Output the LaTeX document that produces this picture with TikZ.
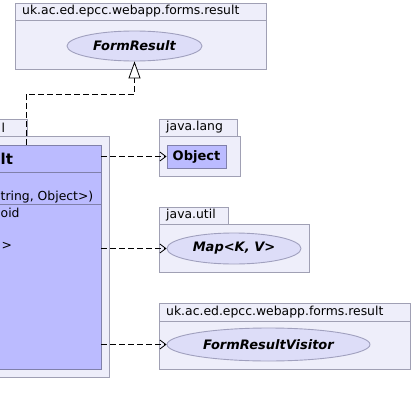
\documentclass[tikz,border=0pt]{standalone}
\usepackage{fontspec}
\setmainfont{DejaVu Sans}
\usetikzlibrary{arrows.meta,shapes.geometric}
\definecolor{pkgfill}{RGB}{238,238,250}
\definecolor{pkgline}{RGB}{160,160,180}
\definecolor{clsfill}{RGB}{187,187,255}
\definecolor{clsline}{RGB}{128,128,170}
\definecolor{ellfill}{RGB}{221,221,248}
\definecolor{ellline}{RGB}{160,160,190}
\tikzset{
  pkg/.style={draw=pkgline, fill=pkgfill, line width=0.9pt},
  cls/.style={draw=clsline, fill=clsfill, line width=0.9pt},
  ell/.style={ellipse, draw=ellline, fill=ellfill, line width=0.9pt, inner sep=0pt},
  lbl/.style={font=\fontsize{12.4}{14}\selectfont, inner sep=0pt},
  bfi/.style={font=\fontsize{13}{15}\selectfont\bfseries\itshape},
  dep/.style={draw=black, line width=0.8pt, dash pattern=on 6pt off 3pt, -{Straight Barb[length=6pt,width=9pt,line width=0.8pt]}},
  inh/.style={draw=black, line width=0.8pt, dash pattern=on 6pt off 3pt, -{Triangle[open,length=17pt,width=12pt,line width=0.8pt,fill=white]}}
}
\begin{document}
\begin{tikzpicture}[x=1pt,y=-1pt]
\useasboundingbox (0,0) rectangle (413,415);
\fill[white] (0,0) rectangle (413,415);
% top package
\draw[pkg] (15,3) rectangle (266,69);
\draw[pkgline, line width=0.9pt] (15,20) -- (266,20);
\node[lbl, anchor=west] (p1l) at (22,11.5) {uk.ac.ed.epcc.webapp.forms.result};
\node[ell, bfi, minimum width=135pt, minimum height=30pt] (fr) at (134.5,46) {FormResult};
% left package
\draw[pkg] (-10,119) rectangle (27,136);
\draw[pkg] (-10,136) rectangle (109,377);
\node[lbl, anchor=west] (p2l) at (1.5,127.5) {l};
\draw[cls] (-10,145) rectangle (101,369);
\coordinate (clsE) at (101,257);
\draw[clsline, line width=0.9pt] (-10,172) -- (101,172);
\draw[clsline, line width=0.9pt] (-10,204) -- (101,204);
\node[lbl, anchor=west, font=\fontsize{15}{17}\selectfont\bfseries] (cn) at (0.5,159) {lt};
\node[lbl, anchor=west] (f1) at (0.5,197) {tring, Object>)};
\node[lbl, anchor=west] (m1) at (0.5,213) {oid};
\node[lbl, anchor=west] (m2) at (1.5,246) {>};
% java.lang
\draw[pkg] (159,119) rectangle (237,136);
\draw[pkg] (159,136) rectangle (240,176);
\node[lbl, anchor=west] (p3l) at (166,127.5) {java.lang};
\node[cls, minimum width=59pt, minimum height=23pt, inner sep=0pt, font=\fontsize{13}{15}\selectfont\bfseries] (obj) at (196.5,156.5) {Object};
% java.util
\draw[pkg] (159,207) rectangle (228,224);
\draw[pkg] (159,224) rectangle (309,272);
\node[lbl, anchor=west] (p4l) at (166,215.5) {java.util};
\node[ell, bfi, minimum width=134pt, minimum height=31pt] (map) at (234,248.5) {Map<K, V>};
% bottom package
\draw[pkg] (159,303) rectangle (410,369);
\draw[pkgline, line width=0.9pt] (159,321) -- (410,321);
\node[lbl, anchor=west] (p5l) at (166,312) {uk.ac.ed.epcc.webapp.forms.result};
\node[ell, bfi, minimum width=203pt, minimum height=33pt] (vis) at (268.5,344.5) {FormResultVisitor};
% connectors
\coordinate (clsTop) at (26,145);
\draw[inh] (clsTop) -- (26,94) -| (fr.south);
\draw[dep] (clsE |- obj.west) -- (obj.west);
\draw[dep] (clsE |- map.west) -- (map.west);
\draw[dep] (clsE |- vis.west) -- (vis.west);
\end{tikzpicture}
\end{document}
